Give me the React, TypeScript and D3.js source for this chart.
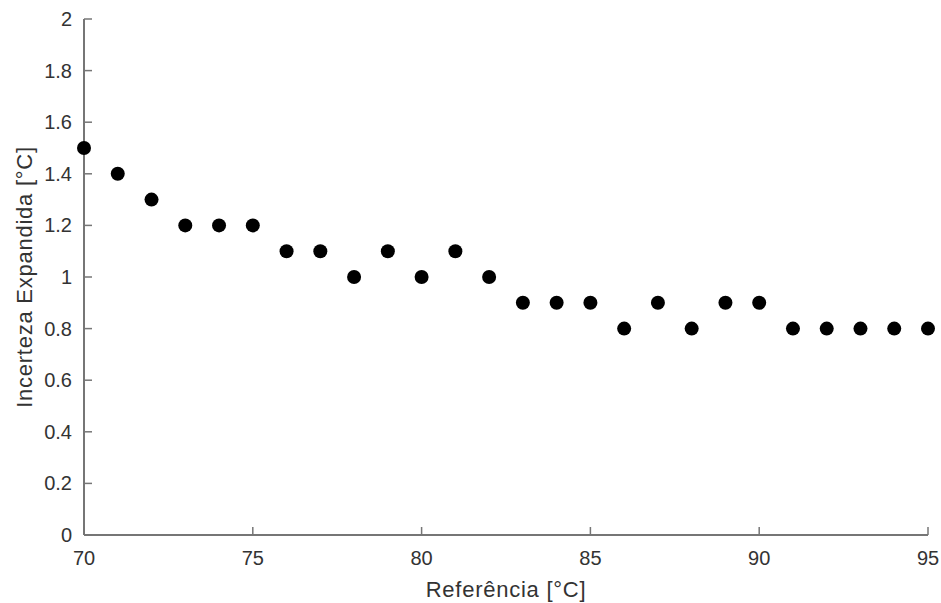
import React from "react";
import * as d3 from "d3";

const references = [70, 71, 72, 73, 74, 75, 76, 77, 78, 79, 80, 81, 82, 83, 84, 85, 86, 87, 88, 89, 90, 91, 92, 93, 94, 95];
const uncertainty = [1.5, 1.4, 1.3, 1.2, 1.2, 1.2, 1.1, 1.1, 1.0, 1.1, 1.0, 1.1, 1.0, 0.9, 0.9, 0.9, 0.8, 0.9, 0.8, 0.9, 0.9, 0.8, 0.8, 0.8, 0.8, 0.8];
const xTicks = [70, 75, 80, 85, 90, 95];
const yTicks = [0, 0.2, 0.4, 0.6, 0.8, 1, 1.2, 1.4, 1.6, 1.8, 2];

const W = 941;
const H = 603;
const left = 84;
const right = 928;
const top = 19;
const bottom = 535;

export default function App() {
  const x = d3.scaleLinear().domain([70, 95]).range([left, right]);
  const y = d3.scaleLinear().domain([0, 2]).range([bottom, top]);
  const axisColor = "#767676";
  const textColor = "#333";
  const font = "Liberation Sans, Arial, sans-serif";
  const tick = 8;

  return (
    <svg width={W} height={H} style={{ position: "absolute", left: 0, top: 0, background: "#fff" }}>
      <g fontFamily={font} fill={textColor}>
        {/* axes */}
        <line x1={left} x2={left} y1={top} y2={bottom} stroke={axisColor} strokeWidth={2} />
        <line x1={left} x2={right} y1={bottom} y2={bottom} stroke={axisColor} strokeWidth={2} />
        {yTicks.map((t) => (
          <g key={"y" + t}>
            <line x1={left} x2={left + tick} y1={y(t)} y2={y(t)} stroke={axisColor} strokeWidth={1.5} />
            <text x={left - 12} y={y(t)} dy="0.35em" textAnchor="end" fontSize={20}>
              {d3.format("~g")(t)}
            </text>
          </g>
        ))}
        {xTicks.map((t) => (
          <g key={"x" + t}>
            <line x1={x(t)} x2={x(t)} y1={bottom} y2={bottom - tick} stroke={axisColor} strokeWidth={1.5} />
            <text x={x(t)} y={bottom + 23} dy="0.35em" textAnchor="middle" fontSize={20}>
              {t}
            </text>
          </g>
        ))}
        <text x={(left + right) / 2} y={597} textAnchor="middle" fontSize={22} letterSpacing={0.75}>
          Referência [°C]
        </text>
        <text
          transform={`translate(24, ${(top + bottom) / 2}) rotate(-90)`}
          dy="0.35em"
          textAnchor="middle"
          fontSize={22}
          letterSpacing={0.75}
        >
          Incerteza Expandida [°C]
        </text>
      </g>
      {references.map((r, i) => (
        <circle key={r} cx={x(r)} cy={y(uncertainty[i])} r={7} fill="#000" />
      ))}
    </svg>
  );
}
